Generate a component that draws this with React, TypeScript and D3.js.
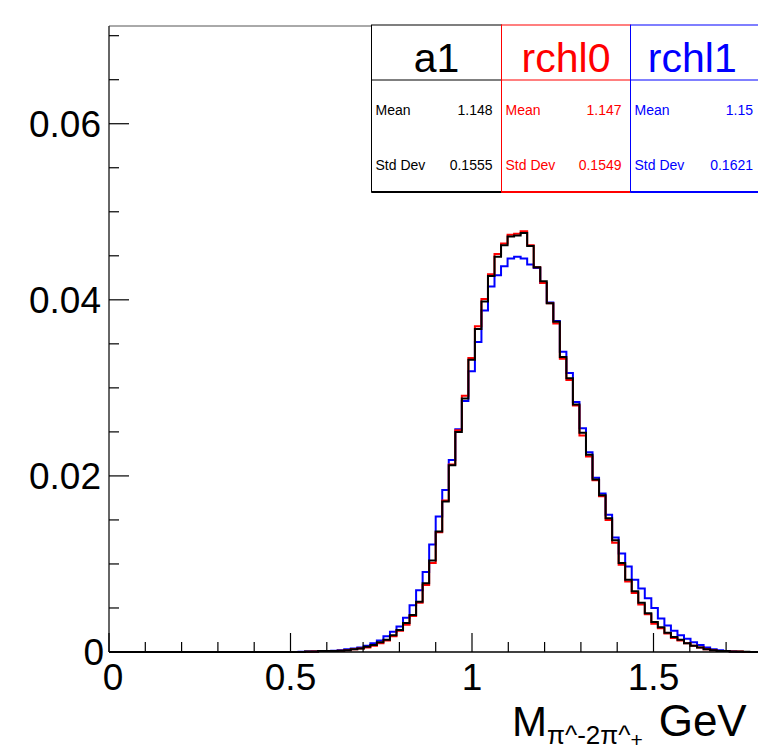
import React from "react";
import * as d3 from "d3";

// Histogram binning: 100 bins on [0, 1.8]
const X_MIN = 0;
const X_MAX = 1.8;
const N_BINS = 100;
const Y_MAX = 0.0711;

// bin contents (index = bin number, starting at FIRST_BIN)
const A1_FIRST = 30;
const a1Values = [
  0.00005, 0.00005, 0.0001, 0.0001, 0.0001, 0.00015, 0.0002, 0.0003, 0.0004, 0.0006,
  0.0008, 0.0011, 0.0014, 0.0019, 0.0025, 0.0033, 0.0042, 0.0057, 0.0078, 0.0104,
  0.0137, 0.0171, 0.0212, 0.025, 0.0288, 0.0332, 0.0367, 0.0398, 0.0427, 0.0449,
  0.0462, 0.0472, 0.0473, 0.0476, 0.0461, 0.0437, 0.0421, 0.0396, 0.0375, 0.0335,
  0.0311, 0.0281, 0.0249, 0.0224, 0.0196, 0.0178, 0.0152, 0.0127, 0.0101, 0.0082,
  0.0069, 0.0056, 0.0044, 0.0034, 0.0028, 0.0022, 0.0017, 0.0014, 0.001, 0.0007,
  0.0005, 0.0003, 0.0002, 0.0001, 0.0001, 0.00005, 0.00005, 0.00003,
];

const RCHL0_FIRST = 30;
const rchl0Values = [
  0.00003, 0.00005, 0.0001, 0.0001, 0.0001, 0.00015, 0.0002, 0.0003, 0.0004, 0.0005,
  0.0007, 0.001, 0.0013, 0.0018, 0.0024, 0.0031, 0.0041, 0.0056, 0.0076, 0.0101,
  0.0136, 0.0172, 0.0213, 0.0252, 0.0291, 0.0334, 0.037, 0.0401, 0.0429, 0.0452,
  0.0464, 0.0474, 0.0475, 0.0478, 0.0462, 0.0437, 0.0419, 0.0396, 0.0373, 0.0333,
  0.0309, 0.028, 0.0246, 0.0222, 0.0195, 0.0177, 0.015, 0.0124, 0.0099, 0.008,
  0.0067, 0.0054, 0.0043, 0.0032, 0.0027, 0.0021, 0.0016, 0.0013, 0.001, 0.0007,
  0.0005, 0.0003, 0.0002, 0.0001, 0.0001, 0.00005, 0.00005,
];

const RCHL1_FIRST = 29;
const rchl1Values = [
  0.00003, 0.00005, 0.00005, 0.0001, 0.0001, 0.00015, 0.0002, 0.0003, 0.0004, 0.0005,
  0.0007, 0.001, 0.0013, 0.0018, 0.0023, 0.0029, 0.0039, 0.0053, 0.007, 0.0091,
  0.0122, 0.0154, 0.0184, 0.0218, 0.0253, 0.0285, 0.0319, 0.0352, 0.0388, 0.0415,
  0.0428, 0.0438, 0.0447, 0.0449, 0.0447, 0.044, 0.0436, 0.0419, 0.0397, 0.0376,
  0.0341, 0.0317, 0.0284, 0.0254, 0.0227, 0.0198, 0.018, 0.0156, 0.013, 0.0112,
  0.0097, 0.0082, 0.0072, 0.0061, 0.005, 0.0038, 0.003, 0.0024, 0.0019, 0.0015,
  0.0011, 0.0008, 0.0005, 0.0003, 0.0002, 0.0001, 0.00005,
];

const xMajorTicks = [0, 0.5, 1, 1.5];
const xTickLabels = ["0", "0.5", "1", "1.5"];
const yMajorTicks = [0, 0.02, 0.04, 0.06];
const yTickLabels = ["0", "0.02", "0.04", "0.06"];

const statNames = ["a1", "rchl0", "rchl1"];
const statColors = ["#000000", "#ff0000", "#0000ff"];
const statMeans = ["1.148", "1.147", "1.15"];
const statStdDevs = ["0.1555", "0.1549", "0.1621"];

const FONT = "'Liberation Sans', Arial, Helvetica, sans-serif";

function fullBins(first: number, vals: number[]): number[] {
  const out: number[] = new Array(N_BINS).fill(0);
  vals.forEach((v, i) => {
    if (first + i < N_BINS) out[first + i] = v;
  });
  return out;
}

export default function App() {
  const W = 758;
  const H = 751;
  const x = d3.scaleLinear().domain([X_MIN, X_MAX]).range([109, 762.4]);
  const y = d3.scaleLinear().domain([0, Y_MAX]).range([652, 26]);
  const bw = (X_MAX - X_MIN) / N_BINS;

  const stepPath = (vals: number[]) => {
    const pts: [number, number][] = [[X_MIN, 0]];
    vals.forEach((v, i) => {
      pts.push([X_MIN + i * bw, v]);
      pts.push([X_MIN + (i + 1) * bw, v]);
    });
    pts.push([X_MAX, 0]);
    return d3
      .line<[number, number]>()
      .x((d) => x(d[0]))
      .y((d) => y(d[1]))(pts) as string;
  };

  const series = [
    { vals: fullBins(RCHL1_FIRST, rchl1Values), color: "#0000ff" },
    { vals: fullBins(RCHL0_FIRST, rchl0Values), color: "#ff0000" },
    { vals: fullBins(A1_FIRST, a1Values), color: "#000000" },
  ];

  const xMinor = d3.range(0, 18).map((i) => i * 0.1).filter((v) => Math.abs(v * 2 - Math.round(v * 2)) > 1e-6);
  const yMinor = d3.range(0, 15).map((i) => i * 0.005).filter((v) => v <= Y_MAX && Math.abs(v / 0.02 - Math.round(v / 0.02)) > 1e-6);

  // stats boxes
  const colEdges = [371.5, 501.5, 630.5, 760];
  const boxTop = 25;
  const boxMid = 80;
  const boxBottom = 192;

  return (
    <svg width={W} height={H} style={{ position: "absolute", left: 0, top: 0, background: "#fff" }} fontFamily={FONT}>
      <rect x={0} y={0} width={W} height={H} fill="#fff" />
      {/* frame */}
      <line x1={x(0)} x2={x(X_MAX)} y1={y(Y_MAX)} y2={y(Y_MAX)} stroke="#555" strokeWidth={1} />
      {/* histograms */}
      {series.map((s, i) => (
        <path key={i} d={stepPath(s.vals)} fill="none" stroke={s.color} strokeWidth={2} />
      ))}
      {/* axes */}
      <line x1={x(0)} x2={x(X_MAX)} y1={y(0)} y2={y(0)} stroke="#000" strokeWidth={1.5} />
      <line x1={x(0)} x2={x(0)} y1={y(0)} y2={y(Y_MAX)} stroke="#333" strokeWidth={1.5} />
      {xMajorTicks.map((t) => (
        <line key={"xM" + t} x1={x(t)} x2={x(t)} y1={y(0)} y2={y(0) - 19} stroke="#000" strokeWidth={1.2} />
      ))}
      {xMinor.map((t) => (
        <line key={"xm" + t} x1={x(t)} x2={x(t)} y1={y(0)} y2={y(0) - 10} stroke="#000" strokeWidth={1.2} />
      ))}
      {yMajorTicks.map((t) => (
        <line key={"yM" + t} x1={x(0)} x2={x(0) + 20} y1={y(t)} y2={y(t)} stroke="#000" strokeWidth={1.2} />
      ))}
      {yMinor.map((t) => (
        <line key={"ym" + t} x1={x(0)} x2={x(0) + 10} y1={y(t)} y2={y(t)} stroke="#000" strokeWidth={1.2} />
      ))}
      {xMajorTicks.map((t, i) => (
        <text key={"xl" + t} x={x(t) + (t === 0 ? 4 : 0)} y={690} fontSize={37} textAnchor="middle" fill="#000">
          {xTickLabels[i]}
        </text>
      ))}
      {yMajorTicks.map((t, i) => (
        <text key={"yl" + t} x={t === 0 ? 104 : 101} y={y(t) + 13} fontSize={37} textAnchor="end" fill="#000">
          {yTickLabels[i]}
        </text>
      ))}
      {/* x-axis title */}
      <text x={512} y={736} fontSize={42} fill="#000">
        M
        <tspan fontSize={26} dy={8}>π^-2π^</tspan>
        <tspan fontSize={21} dy={3}>+</tspan>
        <tspan fontSize={44} dy={-11} dx={16}>GeV</tspan>
      </text>
      {/* stats boxes */}
      {statNames.map((name, i) => {
        const x0 = colEdges[i];
        const x1 = colEdges[i + 1];
        const c = statColors[i];
        const valRight = i === 2 ? 753 : x1 - 9;
        return (
          <g key={name}>
            <rect x={x0} y={boxTop} width={x1 - x0} height={boxBottom - boxTop} fill="#fff" stroke={c} strokeWidth={1} />
            <line x1={x0} x2={x1} y1={boxMid} y2={boxMid} stroke={c} strokeWidth={1} />
            <line x1={x0} x2={x1} y1={boxBottom} y2={boxBottom} stroke={c} strokeWidth={2} />
            <text x={(x0 + Math.min(x1, 758)) / 2 + (i === 2 ? -2 : 0)} y={72} fontSize={41} textAnchor="middle" fill={c}>
              {name}
            </text>
            <text x={x0 + 4} y={115} fontSize={14} fill={c}>Mean</text>
            <text x={valRight} y={115} fontSize={14} textAnchor="end" fill={c}>{statMeans[i]}</text>
            <text x={x0 + 4} y={170} fontSize={14} fill={c}>Std Dev</text>
            <text x={valRight} y={170} fontSize={14} textAnchor="end" fill={c}>{statStdDevs[i]}</text>
          </g>
        );
      })}
    </svg>
  );
}
